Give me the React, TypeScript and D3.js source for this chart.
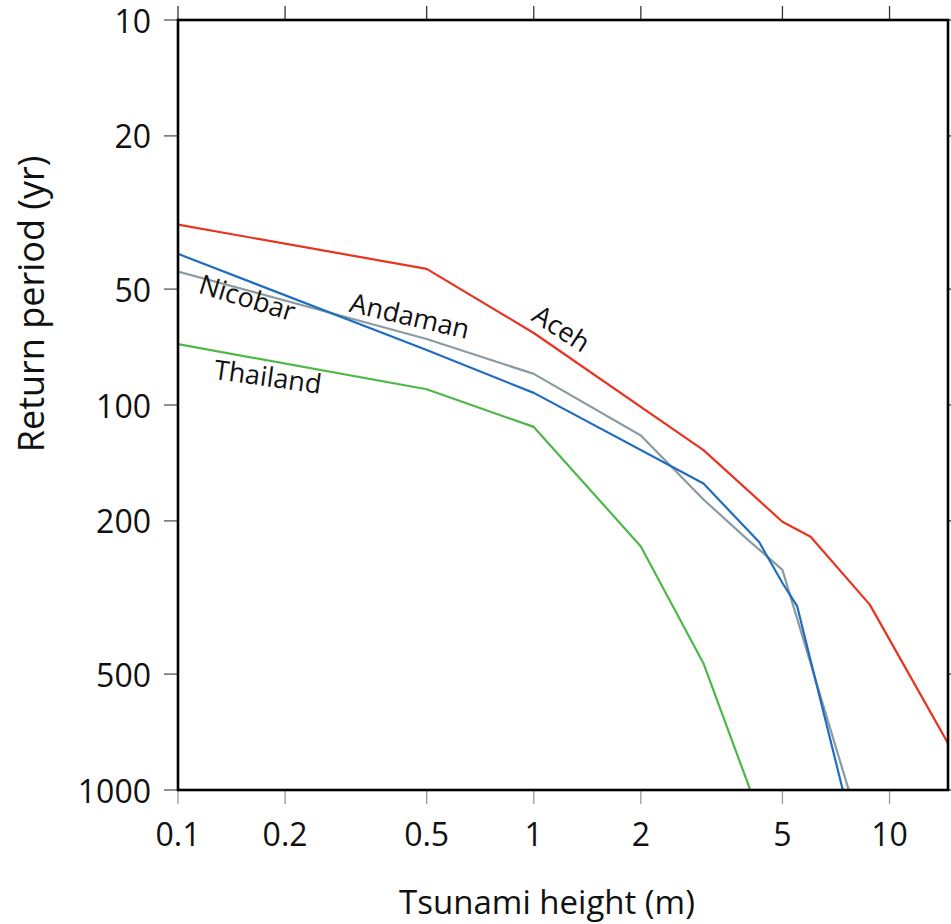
import React from "react";
import * as d3 from "d3";

const xTicks = [0.1, 0.2, 0.5, 1, 2, 5, 10];
const xTickLabels = ["0.1", "0.2", "0.5", "1", "2", "5", "10"];
const yTicks = [10, 20, 50, 100, 200, 500, 1000];
const yTickLabels = ["10", "20", "50", "100", "200", "500", "1000"];

const acehX = [0.1, 0.5, 1, 3, 5, 6, 8.8, 15];
const acehY = [34, 44.3, 65, 131, 201, 220, 330, 790];
const andamanX = [0.1, 0.5, 1, 2, 3, 4, 5, 7.68];
const andamanY = [45, 67.4, 83, 120, 176, 224, 268, 1000];
const nicobarX = [0.1, 0.5, 1, 3, 4.3, 5, 5.5, 7.39];
const nicobarY = [40.5, 72, 93, 160, 227, 290, 333, 1000];
const thailandX = [0.1, 0.5, 1, 2, 3, 4.06];
const thailandY = [69.5, 91, 114, 233, 469, 1000];

const seriesNames = ["Aceh", "Andaman", "Nicobar", "Thailand"];
const seriesColors = ["#e8331f", "#8a9ba1", "#1f6cc1", "#4db848"];

// label anchor positions in data units
const labelNames = ["Aceh", "Andaman", "Nicobar", "Thailand"];
const labelX = [1.2, 0.449, 0.157, 0.179];
const labelY = [63, 58.4, 52.4, 84];
const labelRot = [33, 13, 17, 8];

const W = 951;
const H = 924;
const L = 178, R = 948, T = 20, B = 790;
const FONT = "'Open Sans', 'Noto Sans', sans-serif";

export default function App() {
  const x = d3.scaleLog().domain([0.1, 14.6]).range([L, R]);
  const y = d3.scaleLog().domain([10, 1000]).range([T, B]);
  const line = d3
    .line<[number, number]>()
    .x((d) => x(d[0]))
    .y((d) => y(d[1]));
  const series = [
    { xs: acehX, ys: acehY },
    { xs: andamanX, ys: andamanY },
    { xs: nicobarX, ys: nicobarY },
    { xs: thailandX, ys: thailandY },
  ].map((s, i) => ({
    name: seriesNames[i],
    color: seriesColors[i],
    pts: s.xs.map((v, j) => [v, s.ys[j]] as [number, number]),
  }));

  return (
    <svg
      width={W}
      height={H}
      style={{ position: "absolute", left: 0, top: 0, background: "#fff" }}
      fontFamily={FONT}
    >
      <defs>
        <clipPath id="plotclip">
          <rect x={L} y={T} width={R - L} height={B - T} />
        </clipPath>
      </defs>
      <rect x={0} y={0} width={W} height={H} fill="#fff" />
      {xTicks.map((t, i) => (
        <g key={"xt" + i}>
          <line x1={x(t)} x2={x(t)} y1={T} y2={T - 14} stroke="#333" strokeWidth={1.3} />
          <line x1={x(t)} x2={x(t)} y1={B} y2={B + 14} stroke="#999" strokeWidth={1.3} />
          <text
            x={x(t)}
            y={B + 43}
            textAnchor="middle"
            dominantBaseline="central"
            fontSize={32}
            fill="#111"
          >
            {xTickLabels[i]}
          </text>
        </g>
      ))}
      {yTicks.map((t, i) => (
        <g key={"yt" + i}>
          <line x1={L} x2={L - 14} y1={y(t)} y2={y(t)} stroke="#555" strokeWidth={1.3} />
          <line x1={R} x2={R + 14} y1={y(t)} y2={y(t)} stroke="#333" strokeWidth={1.3} />
          <text
            x={151}
            y={y(t)}
            textAnchor="end"
            dominantBaseline="central"
            fontSize={32}
            fill="#111"
          >
            {yTickLabels[i]}
          </text>
        </g>
      ))}
      <g clipPath="url(#plotclip)">
        {series.map((s) => (
          <path
            key={s.name}
            d={line(s.pts) || ""}
            fill="none"
            stroke={s.color}
            strokeWidth={2.2}
            strokeLinejoin="round"
          />
        ))}
      </g>
      <rect x={L} y={T} width={R - L} height={B - T} fill="none" stroke="#000" strokeWidth={2.6} />
      {labelNames.map((name, i) => {
        const px = x(labelX[i]);
        const py = y(labelY[i]);
        return (
          <text
            key={name}
            x={px}
            y={py}
            textAnchor="middle"
            dominantBaseline="central"
            fontSize={27}
            fill="#111"
            transform={`rotate(${labelRot[i]}, ${px}, ${py})`}
          >
            {name}
          </text>
        );
      })}
      <text x={547} y={901} textAnchor="middle" dominantBaseline="central" fontSize={33} fill="#111">
        Tsunami height (m)
      </text>
      <text
        x={30}
        y={304}
        textAnchor="middle"
        dominantBaseline="central"
        fontSize={36}
        fill="#111"
        transform="rotate(-90, 30, 304)"
      >
        Return period (yr)
      </text>
    </svg>
  );
}
